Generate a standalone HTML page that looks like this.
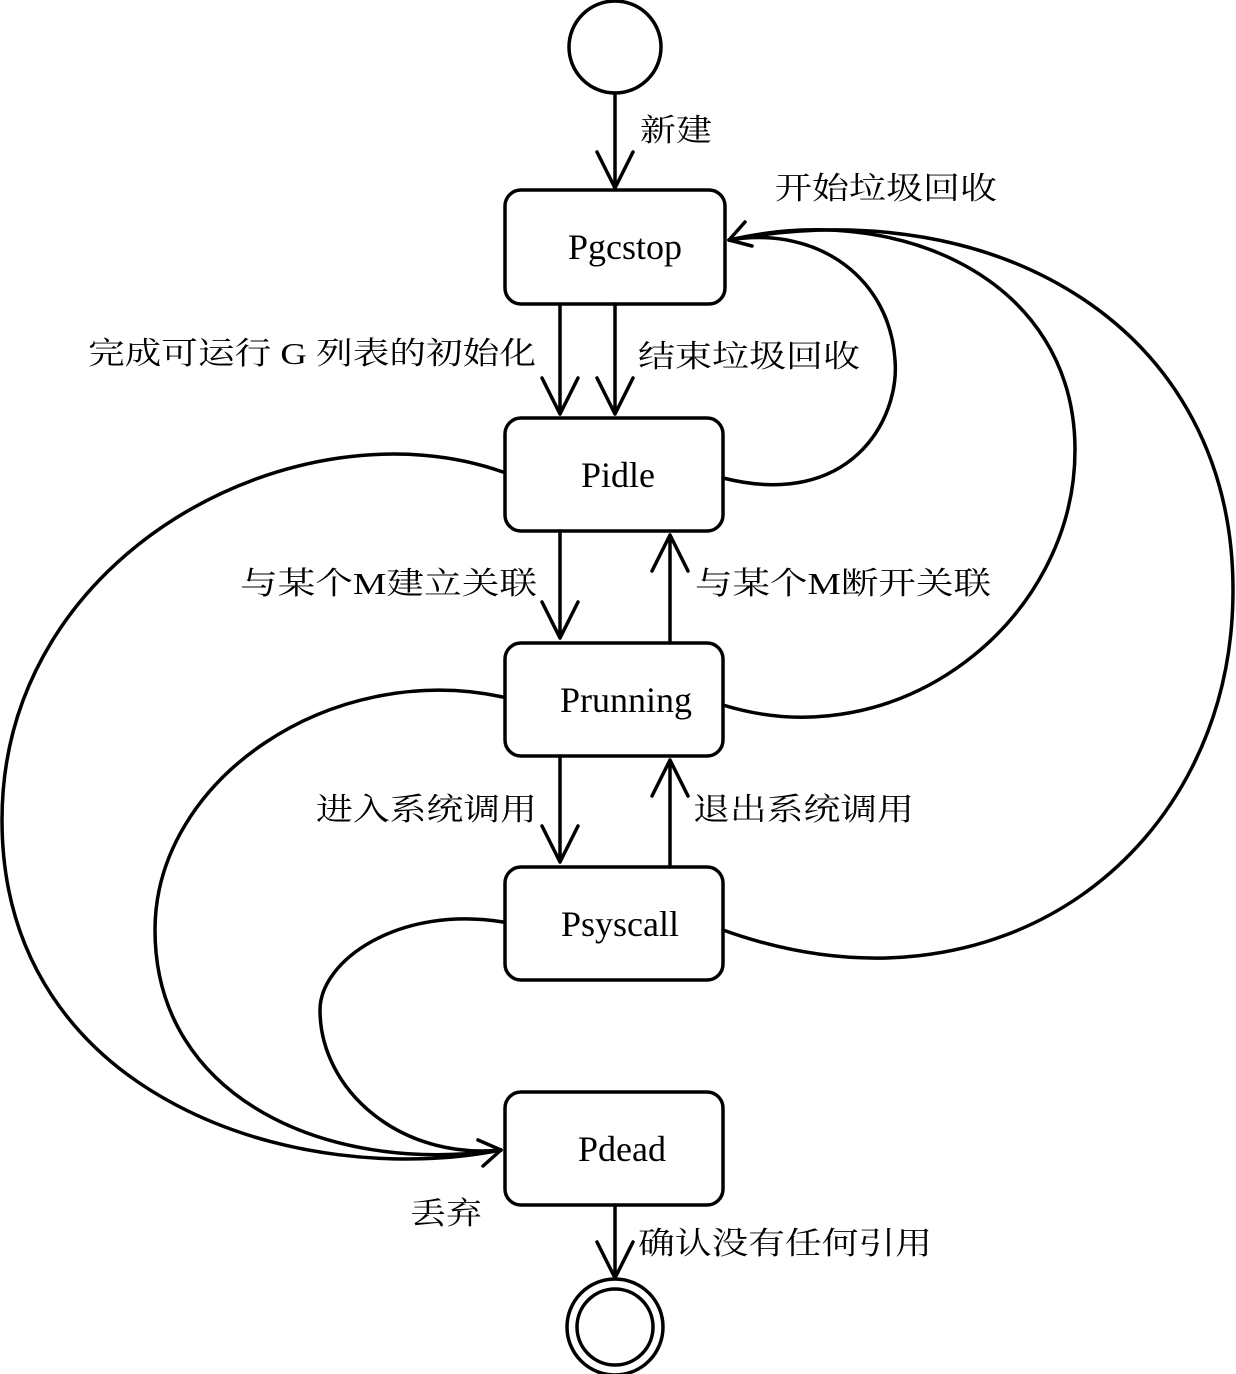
<!DOCTYPE html>
<html><head><meta charset="utf-8"><style>
html,body{margin:0;padding:0;background:#fff}
svg{display:block}
text{font-family:"Liberation Serif","Noto Serif CJK SC",serif;fill:#000}
</style></head><body>
<svg width="1236" height="1374" viewBox="0 0 1236 1374" xmlns="http://www.w3.org/2000/svg">
<g fill="none" stroke="#000" stroke-width="3.5" stroke-linecap="round" stroke-linejoin="round">
<circle cx="615" cy="47" r="46"/>
<circle cx="615" cy="1327" r="48"/>
<circle cx="615" cy="1327" r="38"/>
<rect x="505" y="190" width="220" height="114" rx="16"/>
<rect x="505" y="418" width="218" height="113" rx="16"/>
<rect x="505" y="643" width="218" height="113" rx="16"/>
<rect x="505" y="867" width="218" height="113" rx="16"/>
<rect x="505" y="1092" width="218" height="113" rx="16"/>
<path d="M615 93V188M597 152L615 188L633 152"/>
<path d="M560 304V414M542 378L560 414L578 378"/>
<path d="M615 304V414M597 378L615 414L633 378"/>
<path d="M560 531V638M542 602L560 638L578 602"/>
<path d="M670 643V535M652 571L670 535L688 571"/>
<path d="M560 756V862M542 826L560 862L578 826"/>
<path d="M670 867V760M652 796L670 760L688 796"/>
<path d="M615 1205V1278M597 1242L615 1278L633 1242"/>
<path d="M723 478C850 510 900 420 895 360C890 280 820 225 729 240"/>
<path d="M723 705C900 760 1075 620 1075 450C1075 280 900 200 729 240"/>
<path d="M723 930C1000 1030 1233 850 1233 590C1233 330 1000 190 729 240"/>
<path d="M745 222L729 240L752 246"/>
<path d="M503 472C300 400 2 550 2 820C2 1100 300 1190 501 1150"/>
<path d="M503 697C330 660 155 780 155 930C155 1100 330 1175 501 1150"/>
<path d="M503 922C400 905 320 960 320 1010C320 1090 400 1160 501 1150"/>
<path d="M478 1140L501 1150L483 1166"/>
</g>
<g font-size="36">
<text x="625" y="259" text-anchor="middle">Pgcstop</text>
<text x="618" y="487" text-anchor="middle">Pidle</text>
<text x="626" y="712" text-anchor="middle">Prunning</text>
<text x="620" y="936" text-anchor="middle">Psyscall</text>
<text x="622" y="1161" text-anchor="middle">Pdead</text>
</g>
<g font-size="31">
<text x="640" y="141" textLength="72" lengthAdjust="spacingAndGlyphs">新建</text>
<text x="775" y="199" textLength="222" lengthAdjust="spacingAndGlyphs">开始垃圾回收</text>
<text x="88" y="364" textLength="448" lengthAdjust="spacingAndGlyphs">完成可运行 G 列表的初始化</text>
<text x="638" y="367" textLength="222" lengthAdjust="spacingAndGlyphs">结束垃圾回收</text>
<text x="240" y="594" textLength="297" lengthAdjust="spacingAndGlyphs">与某个M建立关联</text>
<text x="695" y="594" textLength="296" lengthAdjust="spacingAndGlyphs">与某个M断开关联</text>
<text x="316" y="820" textLength="221" lengthAdjust="spacingAndGlyphs">进入系统调用</text>
<text x="693" y="820" textLength="221" lengthAdjust="spacingAndGlyphs">退出系统调用</text>
<text x="410" y="1224" textLength="72" lengthAdjust="spacingAndGlyphs">丢弃</text>
<text x="638" y="1254" textLength="294" lengthAdjust="spacingAndGlyphs">确认没有任何引用</text>
</g>
</svg>
</body></html>
